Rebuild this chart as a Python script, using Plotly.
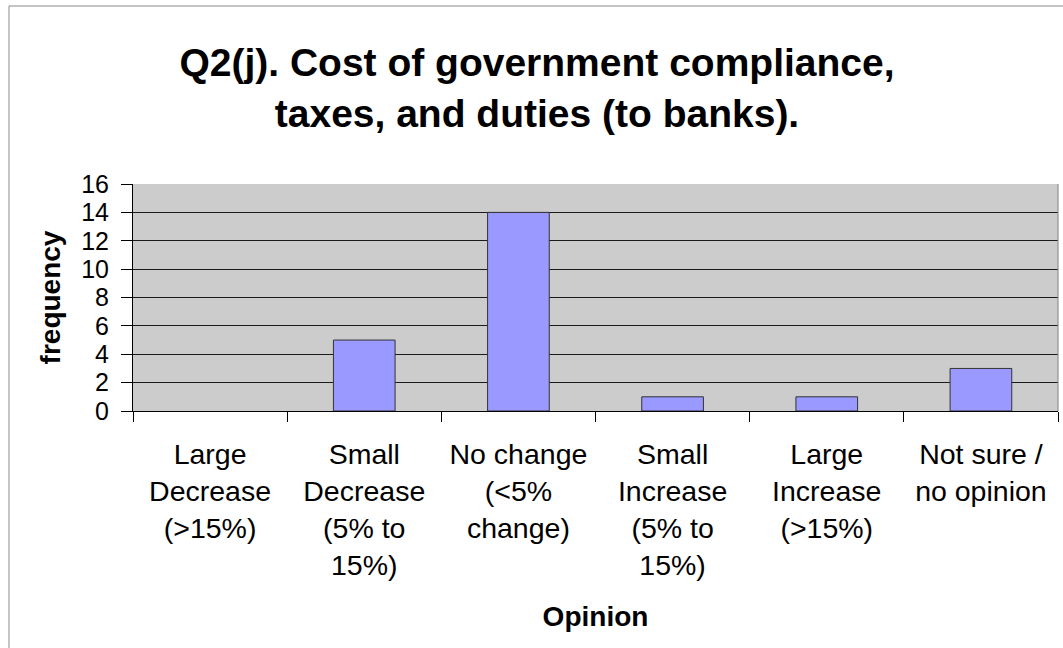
import plotly.graph_objects as go

# Survey responses for Q2(j)
categories = [
    "Large<br>Decrease<br>(>15%)",
    "Small<br>Decrease<br>(5% to<br>15%)",
    "No change<br>(<5%<br>change)",
    "Small<br>Increase<br>(5% to<br>15%)",
    "Large<br>Increase<br>(>15%)",
    "Not sure /<br>no opinion",
]
frequency = [0, 5, 14, 1, 1, 3]
y_ticks = [0, 2, 4, 6, 8, 10, 12, 14, 16]

W, H = 1063, 648
L, R, T, B = 133, 5, 184, 237
FONT = "Liberation Sans, Arial, sans-serif"

# zero-height bars get no outline
outline_widths = [1 if v > 0 else 0 for v in frequency]

fig = go.Figure(
    go.Bar(
        x=categories,
        y=frequency,
        marker=dict(color="#9999FF", line=dict(color="#333333", width=outline_widths)),
        width=0.4,
    )
)

# outer chart frame (runs off the right and bottom edges)
pw, ph = W - L - R, H - T - B
fig.add_shape(
    type="rect", xref="paper", yref="paper",
    x0=(9 - L) / pw, x1=(W + 20 - L) / pw,
    y0=-(H + 20 - T - ph) / ph, y1=(T - 6) / ph + 1,
    line=dict(color="#8a8a8a", width=1), fillcolor="rgba(0,0,0,0)", layer="below",
)
# plot area right border
fig.add_shape(
    type="line", xref="paper", yref="paper", x0=1, x1=1, y0=0, y1=1,
    line=dict(color="#808080", width=1),
)

fig.update_layout(
    width=W, height=H,
    margin=dict(l=L, r=R, t=T, b=B),
    paper_bgcolor="white",
    plot_bgcolor="#CCCCCC",
    showlegend=False,
    font=dict(family=FONT, color="black"),
    title=dict(
        text="<b>Q2(j). Cost of government compliance,<br>taxes, and duties (to banks).</b>",
        font=dict(size=39, family=FONT, color="black"),
        x=537 / W, xanchor="center", xref="container",
        y=1 - 76 / H, yanchor="middle", yref="container",
    ),
    xaxis=dict(
        type="category",
        tickson="boundaries",
        ticks="outside", ticklen=10, tickcolor="black", tickwidth=1,
        showline=True, linecolor="black", linewidth=1,
        showgrid=False,
        tickfont=dict(size=28.5, family=FONT),
        ticklabelstandoff=18,
        title=dict(text="<b>Opinion</b>", font=dict(size=28, family=FONT), standoff=26),
    ),
    yaxis=dict(
        range=[0, 16],
        tickvals=y_ticks,
        ticks="outside", ticklen=11, tickcolor="black", tickwidth=1,
        showline=True, linecolor="black", linewidth=1,
        showgrid=True, gridcolor="#1a1a1a", gridwidth=1,
        zeroline=False,
        tickfont=dict(size=25, family=FONT),
        ticklabelstandoff=7,
        title=dict(text="<b>frequency</b>", font=dict(size=28, family=FONT), standoff=12),
    ),
)

fig.write_html("out.html")
